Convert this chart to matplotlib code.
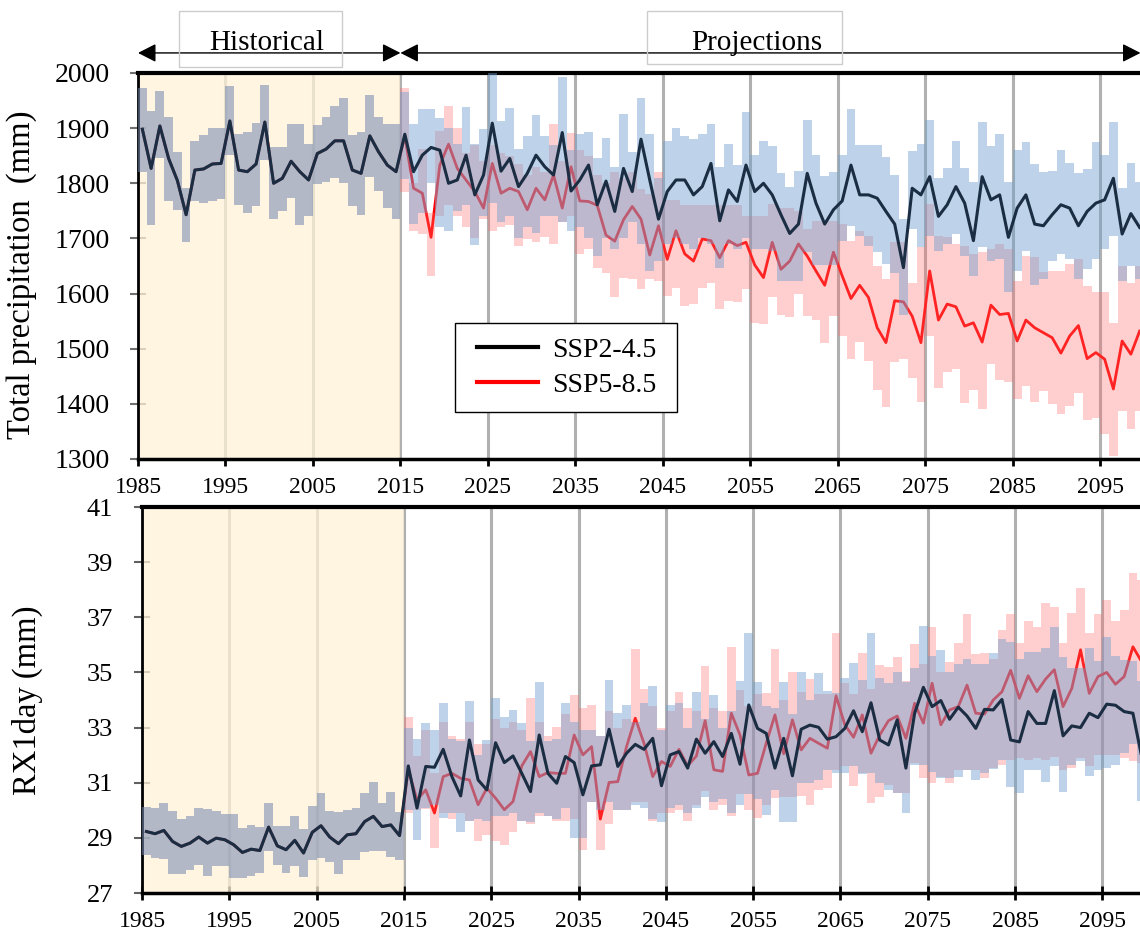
import numpy as np
import matplotlib
matplotlib.use('Agg')
import matplotlib.pyplot as plt
from matplotlib.patches import Rectangle
from matplotlib.transforms import ScaledTranslation

plt.rcParams['font.family'] = ['Liberation Serif', 'DejaVu Serif']

hist_years = np.arange(1985, 2015)
proj_years = np.arange(2015, 2100)

# ---- total precipitation (mm) ----
hist_pr_mean = [1898,1827,1904,1845,1805,1743,1824,1826,1835,1836,
                1913,1824,1821,1835,1911,1800,1809,1840,1821,1806,
                1854,1862,1877,1877,1824,1818,1886,1857,1833,1821]
hist_pr_max = [1973,1931,1967,1921,1857,1791,1876,1888,1901,1901,
               1977,1889,1893,1909,1979,1865,1865,1908,1907,1871,
               1905,1921,1941,1954,1888,1893,1960,1921,1908,1908]
hist_pr_min = [1820,1725,1845,1768,1751,1694,1768,1764,1767,1771,
               1851,1761,1746,1758,1842,1736,1749,1773,1724,1740,
               1798,1803,1809,1800,1758,1743,1812,1786,1755,1735]

ssp245_pr_mean = [1889,1821,1851,1865,1860,1800,1806,1851,1779,1815,
                  1909,1822,1845,1794,1818,1851,1830,1815,1892,1786,
                  1806,1833,1761,1804,1749,1827,1785,1880,1806,1735,
                  1785,1806,1806,1779,1794,1836,1732,1788,1767,1833,
                  1785,1800,1779,1743,1709,1726,1818,1764,1726,1752,
                  1768,1833,1779,1779,1773,1749,1726,1647,1791,1779,
                  1812,1740,1761,1794,1764,1696,1812,1770,1779,1702,
                  1755,1779,1726,1723,1743,1761,1755,1723,1749,1764,
                  1770,1809,1708,1745,1720]
ssp245_pr_max = [1965,1907,1934,1934,1919,1901,1871,1938,1871,1898,
                 2000,1913,1936,1862,1886,1923,1886,1870,1993,1860,
                 1889,1893,1846,1882,1830,1925,1857,1955,1889,1810,
                 1877,1901,1886,1880,1889,1907,1830,1871,1833,1929,
                 1851,1877,1868,1818,1794,1822,1915,1851,1813,1821,
                 1851,1935,1870,1869,1870,1848,1815,1736,1859,1871,
                 1915,1810,1828,1877,1827,1803,1912,1868,1890,1803,
                 1861,1874,1835,1821,1823,1861,1836,1818,1826,1874,
                 1851,1912,1792,1836,1803]
ssp245_pr_min = [1808,1726,1746,1800,1720,1713,1750,1760,1688,1740,
                 1765,1730,1740,1700,1720,1710,1740,1740,1730,1714,
                 1720,1700,1668,1700,1680,1700,1730,1690,1641,1659,
                 1690,1700,1690,1680,1700,1690,1646,1690,1680,1700,
                 1681,1681,1678,1623,1623,1623,1675,1652,1652,1652,
                 1696,1723,1705,1687,1675,1653,1638,1562,1717,1684,
                 1705,1678,1690,1708,1668,1632,1684,1659,1662,1602,
                 1641,1678,1615,1626,1659,1672,1662,1626,1644,1662,
                 1681,1705,1623,1650,1626]

ssp585_pr_mean = [1885,1791,1782,1702,1833,1871,1827,1806,1785,1755,
                  1836,1782,1791,1785,1752,1791,1770,1815,1755,1830,
                  1768,1767,1760,1706,1695,1734,1758,1735,1670,1723,
                  1662,1714,1672,1659,1699,1696,1665,1696,1687,1693,
                  1652,1629,1693,1644,1659,1690,1668,1641,1615,1675,
                  1632,1591,1615,1593,1538,1511,1587,1585,1559,1511,
                  1641,1552,1581,1576,1541,1547,1512,1579,1562,1564,
                  1514,1552,1538,1529,1520,1492,1523,1542,1482,1493,
                  1481,1427,1514,1490,1532]
ssp585_pr_max = [1972,1800,1862,1746,1895,1940,1901,1855,1870,1840,
                 1870,1855,1850,1835,1815,1830,1820,1907,1840,1892,
                 1860,1850,1815,1800,1820,1810,1820,1790,1780,1821,
                 1770,1770,1760,1760,1760,1760,1760,1760,1760,1740,
                 1741,1741,1762,1756,1756,1750,1717,1732,1732,1732,
                 1726,1696,1714,1705,1650,1626,1693,1693,1620,1684,
                 1762,1705,1702,1690,1687,1672,1675,1681,1690,1681,
                 1623,1668,1667,1640,1641,1641,1653,1662,1614,1602,
                 1602,1547,1650,1620,1650]
ssp585_pr_min = [1785,1714,1708,1631,1740,1760,1740,1720,1700,1735,
                 1713,1720,1725,1687,1699,1693,1702,1690,1729,1740,
                 1672,1681,1647,1638,1593,1629,1626,1608,1626,1623,
                 1596,1611,1578,1581,1611,1620,1572,1587,1584,1608,
                 1547,1544,1593,1562,1558,1599,1559,1552,1511,1559,
                 1523,1481,1512,1478,1426,1395,1476,1481,1447,1403,
                 1523,1429,1458,1464,1402,1426,1390,1473,1444,1439,
                 1408,1432,1403,1423,1399,1382,1396,1420,1371,1375,
                 1345,1306,1387,1355,1387]

# ---- RX1day (mm) ----
hist_rx_mean = [29.23,29.15,29.27,28.87,28.69,28.81,29.03,28.81,28.99,28.93,
                28.75,28.47,28.59,28.54,29.39,28.71,28.57,28.91,28.45,29.20,
                29.44,29.03,28.79,29.11,29.15,29.59,29.78,29.41,29.47,29.08]
hist_rx_max = [30.11,30.08,30.28,29.96,29.68,29.80,30.08,30.04,29.99,29.86,
               29.86,29.35,29.47,29.41,30.28,29.44,29.44,29.81,29.32,30.14,
               30.62,29.96,29.92,30.02,30.10,30.62,31.04,30.26,30.66,29.92]
hist_rx_min = [28.39,28.27,28.23,27.69,27.69,27.84,28.03,27.60,27.97,27.97,
               27.54,27.54,27.63,27.72,28.51,28.03,27.72,27.97,27.58,28.21,
               28.27,28.11,27.70,28.18,28.21,28.47,28.51,28.51,28.30,28.21]

ssp245_rx_mean = [31.61,30.08,31.59,31.56,32.21,31.22,30.52,32.55,31.10,30.74,
                  32.45,31.73,31.97,31.34,30.68,32.73,31.34,30.98,31.95,31.73,
                  30.56,31.61,31.65,32.94,31.59,32.07,32.39,32.21,32.61,30.89,
                  32.01,32.13,31.53,32.58,32.07,32.49,31.95,32.79,31.67,33.82,
                  32.97,32.79,31.53,32.61,31.25,32.94,33.09,33.01,32.58,32.67,
                  32.97,33.61,32.85,33.90,32.55,32.37,33.28,31.53,33.52,34.46,
                  33.76,33.98,33.30,33.74,33.42,32.97,33.66,33.64,34.02,32.55,
                  32.48,33.58,33.15,33.15,34.34,32.70,33.06,33.00,33.52,33.36,
                  33.85,33.81,33.58,33.52,31.95]
ssp245_rx_max = [32.97,32.6,33.15,32.9,33.88,32.6,32.5,33.96,32.0,32.55,
                 34.08,33.40,33.64,33.15,32.5,34.66,32.5,32.6,33.90,33.2,
                 32.9,32.9,32.7,34.72,33.52,33.82,33.2,33.9,34.51,32.9,
                 33.82,33.9,33.0,34.30,33.3,34.18,33.0,33.6,34.70,36.44,
                 34.64,33.8,33.7,34.66,33.5,35.0,34.0,34.97,34.34,34.24,
                 34.78,35.33,34.72,36.44,34.8,34.6,35.0,34.66,35.15,36.70,
                 35.6,35.81,35.0,35.3,35.5,35.3,35.3,35.7,36.2,36.1,
                 35.5,35.75,35.75,35.9,36.65,35.57,35.15,35.15,35.9,35.4,
                 36.3,35.6,35.45,35.4,34.7]
ssp245_rx_min = [30.0,28.91,30.1,30.2,29.72,29.9,29.23,29.6,29.7,29.6,
                 29.8,29.8,29.9,29.6,29.57,29.9,29.8,29.7,30.1,28.99,
                 28.99,30.3,30.0,30.3,30.0,30.0,30.2,30.1,29.7,29.57,
                 30.1,30.2,29.9,30.1,30.5,30.3,30.4,29.9,30.2,30.6,
                 30.4,29.84,30.74,29.59,29.59,30.98,30.98,31.10,31.47,31.34,
                 31.34,31.6,31.3,31.34,31.0,30.74,30.62,29.90,31.65,31.65,
                 31.4,31.16,31.16,31.22,31.47,31.10,31.34,31.49,31.83,30.86,
                 30.62,31.47,31.47,31.04,31.61,30.68,31.65,31.77,31.25,31.47,
                 31.53,31.65,32.07,32.4,30.32]

ssp585_rx_mean = [31.47,30.38,30.74,29.90,31.22,31.34,31.16,31.10,30.20,30.80,
                  30.44,30.02,30.32,31.61,32.13,31.22,31.37,31.34,31.34,32.73,
                  32.01,32.31,29.68,31.01,31.04,32.31,33.34,32.43,31.22,31.77,
                  31.59,32.21,31.61,31.97,33.25,31.47,31.41,33.52,32.73,31.28,
                  31.34,32.43,33.46,32.05,33.28,32.19,32.61,32.43,32.25,34.15,
                  33.10,32.65,33.46,32.07,32.73,33.25,33.42,32.61,33.88,33.16,
                  34.61,33.10,33.64,33.76,34.54,33.52,33.49,34.00,34.30,35.08,
                  34.06,34.88,34.30,34.76,35.10,33.76,34.42,35.82,34.24,34.85,
                  35.00,34.57,34.85,35.93,35.39]
ssp585_rx_max = [33.37,31.97,32.9,31.34,33.2,32.7,32.6,33.2,32.4,32.4,
                 33.3,33.0,33.2,32.9,34.06,33.2,32.7,33.03,33.5,34.18,
                 33.70,33.82,32.7,33.6,33.0,33.3,35.85,34.39,33.8,33.0,
                 33.6,34.29,33.7,33.6,35.22,33.7,33.6,35.93,34.36,33.8,
                 34.2,34.24,35.85,34.0,35.0,34.3,34.75,34.2,34.2,36.44,
                 34.6,34.2,35.69,34.4,35.27,35.21,35.57,34.7,36.03,35.3,
                 36.65,35.0,35.39,36.05,37.11,35.67,35.71,35.5,36.53,37.11,
                 36.07,36.87,36.65,37.52,37.38,36.07,37.16,38.08,36.44,37.11,
                 37.62,36.87,37.26,38.59,38.34]
ssp585_rx_min = [29.9,30.02,30.04,28.63,29.9,29.7,29.9,29.6,28.87,29.1,
                 28.87,28.75,29.2,29.6,29.5,29.8,29.78,29.6,29.6,29.7,
                 28.57,30.3,28.57,29.5,30.0,30.0,30.3,30.3,29.6,29.9,
                 29.9,30.0,29.6,30.2,30.7,30.0,30.2,29.8,30.6,30.0,
                 29.72,30.2,30.44,30.5,30.5,30.52,30.20,30.74,30.80,31.47,
                 31.59,30.89,31.34,30.28,30.50,30.92,30.62,30.62,31.71,31.16,
                 30.98,31.2,30.98,31.47,31.47,31.47,31.16,31.53,31.65,31.83,
                 31.89,31.83,31.89,31.83,31.95,31.47,31.53,31.89,31.59,32.01,
                 32.01,32.01,31.89,31.77,31.71]

CREAM = '#fff2d8'
BLUE = '#6f9fcf'
PINK = '#ff6b6b'
HIST = '#7386b0'
NAVY = '#1b2d42'


def draw_panel(ax, h_mean, h_lo, h_hi, a_mean, a_lo, a_hi, b_mean, b_lo, b_hi):
    all_years = np.concatenate([hist_years, proj_years])
    h_edges = np.append(hist_years, hist_years[-1] + 1)
    p_edges = np.append(proj_years, proj_years[-1] + 1)
    ax.set_axisbelow(True)
    ax.grid(axis='x', color='#b0b0b0', lw=2.2)
    ax.axvspan(1985, 2015, color=CREAM, alpha=0.75, lw=0, zorder=0.8)
    l2, = ax.plot(all_years + 0.5, list(h_mean) + list(b_mean), color='red', lw=2.0, zorder=2, label='SSP5-8.5')
    ax.stairs(h_hi, h_edges, baseline=h_lo, fill=True, color=HIST, alpha=0.55, lw=0, zorder=3)
    ax.stairs(b_hi, p_edges, baseline=b_lo, fill=True, color=PINK, alpha=0.33, lw=0, zorder=3)
    ax.stairs(a_hi, p_edges, baseline=a_lo, fill=True, color=BLUE, alpha=0.45, lw=0, zorder=3.1)
    l1, = ax.plot(all_years + 0.5, list(h_mean) + list(a_mean), color=NAVY, lw=2.2, zorder=4, label='SSP2-4.5')
    ax.set_xlim(1985, 2100)
    ax.set_xticks(np.arange(1985, 2100, 10))
    ax.spines['right'].set_visible(False)
    ax.spines['top'].set_linewidth(3)
    ax.spines['left'].set_linewidth(2)
    ax.spines['bottom'].set_linewidth(2.5)
    # excel-style labels sit a little to the right of their tick
    for lab in ax.get_xticklabels():
        lab.set_transform(lab.get_transform() + ScaledTranslation(0.04, 0, fig.dpi_scale_trans))
    return l1, l2


fig = plt.figure(figsize=(11.4, 9.33), dpi=100)
ax1 = fig.add_axes([138/1140, 474/933, 1006/1140, 386/933])
ax2 = fig.add_axes([142/1140, 40/933, 1004/1140, 386/933])

l1, l2 = draw_panel(ax1, hist_pr_mean, hist_pr_min, hist_pr_max,
                    ssp245_pr_mean, ssp245_pr_min, ssp245_pr_max,
                    ssp585_pr_mean, ssp585_pr_min, ssp585_pr_max)
draw_panel(ax2, hist_rx_mean, hist_rx_min, hist_rx_max,
           ssp245_rx_mean, ssp245_rx_min, ssp245_rx_max,
           ssp585_rx_mean, ssp585_rx_min, ssp585_rx_max)

ax1.set_ylim(1300, 2000)
ax1.set_yticks(np.arange(1300, 2001, 100))
ax1.tick_params(axis='y', direction='inout', length=12, width=1.5, color='#707070', labelsize=20, pad=14)
ax1.tick_params(axis='x', direction='out', length=5, width=2, labelsize=17, pad=8)
ax1.set_ylabel('Total precipitation  (mm)', fontsize=23.5)
ax1.yaxis.set_label_coords(-0.100, 0.477)

ax2.set_ylim(27, 41)
ax2.set_yticks(np.arange(27, 42, 2))
ax2.tick_params(axis='y', direction='inout', length=11.5, width=1.5, color='#606060', labelsize=19, pad=15)
ax2.tick_params(axis='x', direction='inout', length=10, width=2, labelsize=17, pad=8)
ax2.set_ylabel('RX1day (mm)', fontsize=23.5)
ax2.yaxis.set_label_coords(-0.099, 0.5)

# legend: frame drawn separately so it can be wider than the default padding
ax1.add_patch(Rectangle((0.3151, 0.1218), 0.2207, 0.2306, transform=ax1.transAxes,
                        fc='white', ec='black', lw=1, zorder=9))
leg = ax1.legend(handles=[l1, l2], loc='center left', bbox_to_anchor=(0.337, 0.237),
                 borderaxespad=0, borderpad=0, fontsize=20, frameon=False,
                 handlelength=2.2, handletextpad=0.5, labelspacing=0.34)
for h in leg.legend_handles:
    h.set_linewidth(3)
leg.legend_handles[0].set_color('black')
leg.set_zorder(10)

# period arrows above the top panel
arrow = dict(arrowstyle='<|-|>,head_length=0.55,head_width=0.28', color='black',
             lw=1, shrinkA=0, shrinkB=0, mutation_scale=20)
ax1.annotate('', xy=(2015, 1.052), xytext=(1985, 1.052),
             xycoords=('data', 'axes fraction'), textcoords=('data', 'axes fraction'),
             arrowprops=arrow, annotation_clip=False)
ax1.annotate('', xy=(2099.6, 1.052), xytext=(2015, 1.052),
             xycoords=('data', 'axes fraction'), textcoords=('data', 'axes fraction'),
             arrowprops=arrow, annotation_clip=False)

fig.add_artist(Rectangle((179/1140, 866/933), 163/1140, 56/933, transform=fig.transFigure,
                         fill=False, ec='#cccccc', lw=1))
fig.add_artist(Rectangle((647/1140, 869/933), 195/1140, 53/933, transform=fig.transFigure,
                         fill=False, ec='#cccccc', lw=1))
fig.text(267/1140, 883/933, 'Historical', fontsize=21, ha='center', va='baseline')
fig.text(757/1140, 883/933, 'Projections', fontsize=21, ha='center', va='baseline')

fig.savefig('out.png', dpi=100)
